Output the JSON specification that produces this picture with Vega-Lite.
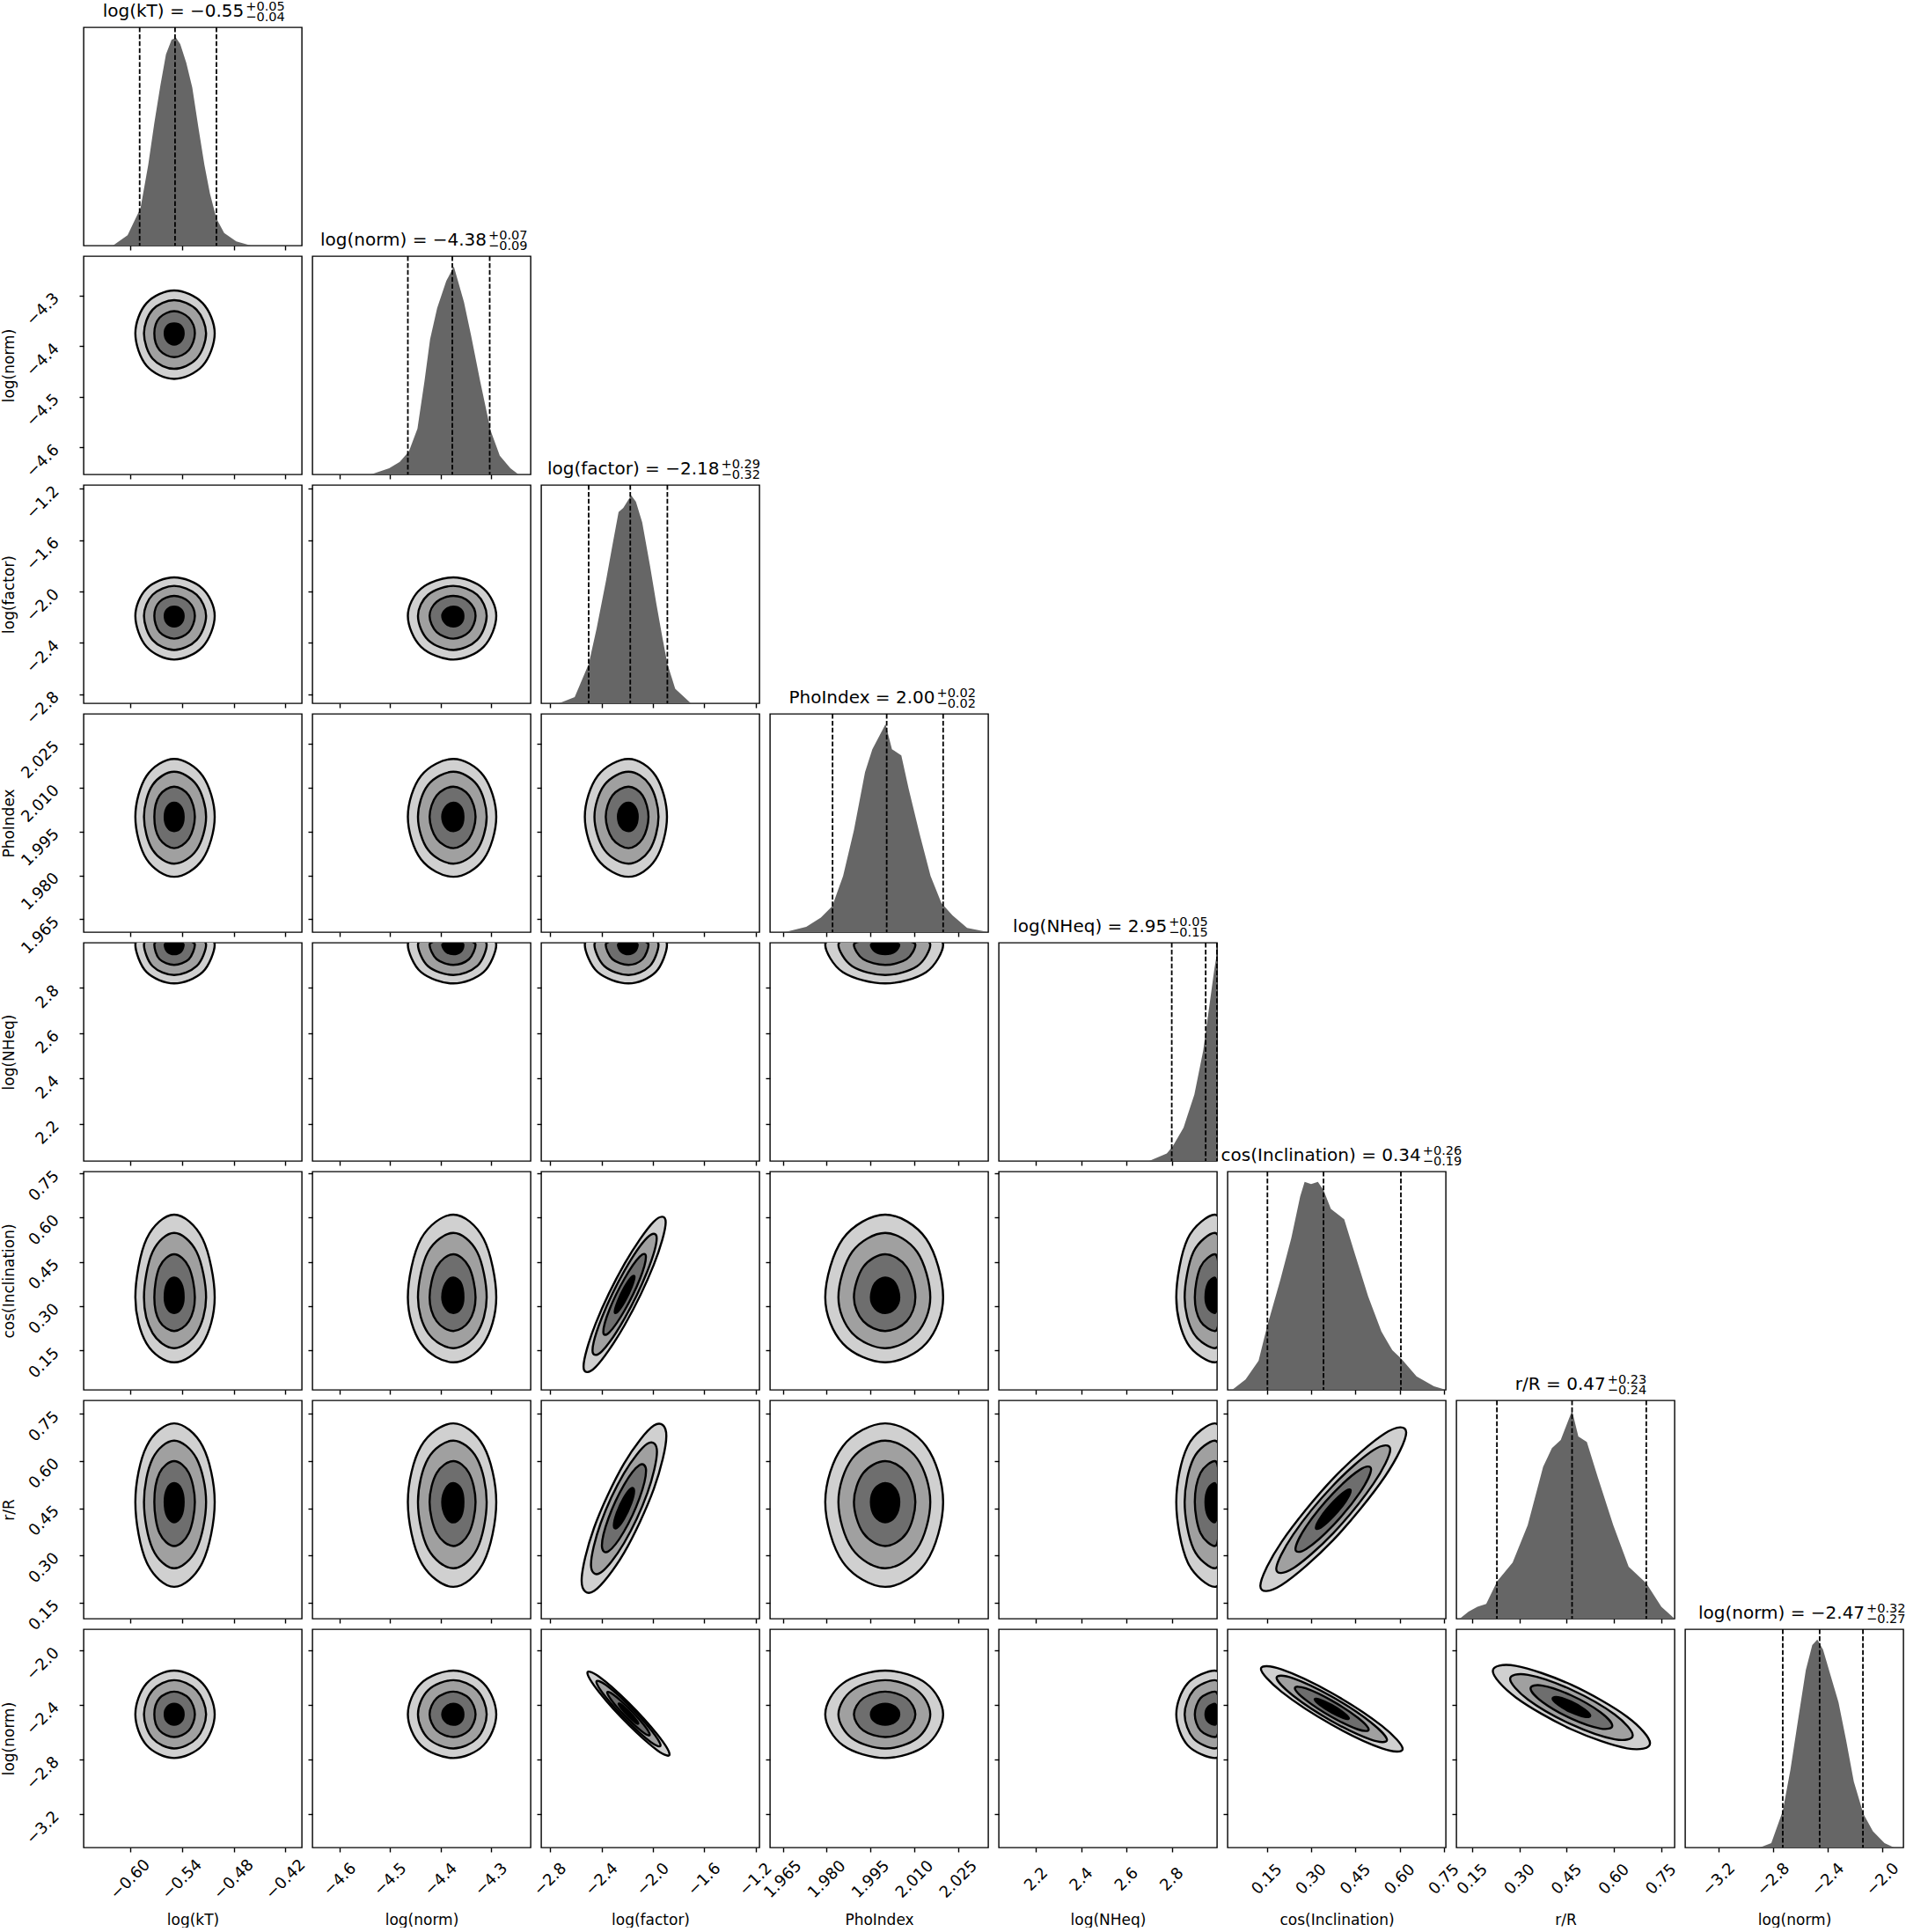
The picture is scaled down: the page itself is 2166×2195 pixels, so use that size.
{
"$schema":"https://vega.github.io/schema/vega-lite/v6.json",
"padding":{"left":0,"top":-2,"right":2,"bottom":0},
"columns":8,"spacing":12,"bounds":"flush",
"resolve":{"scale":{"x":"independent","y":"independent","fill":"independent"}},
"config":{
 "font":"DejaVu Sans",
 "view":{"stroke":"black","strokeWidth":1.4},
 "axis":{"domain":false,"grid":false,"tickColor":"black","tickSize":5,"tickWidth":1.4,"labelFontSize":18,"labelColor":"black","labelFont":"DejaVu Sans","labelAngle":-45,"labelOverlap":false,"labelFlush":false,"labelBound":false,"titleFont":"DejaVu Sans","titleFontSize":17,"titleFontWeight":"normal","titleColor":"black","titleBaseline":"alphabetic"},
 "axisX":{"labelAlign":"center","labelBaseline":"middle","labelPadding":31,"titleY":87},
 "axisY":{"labelAlign":"right","labelBaseline":"middle","labelPadding":26,"titleX":-80},
 "text":{"font":"DejaVu Sans","color":"black"}
},
"datasets":{
"r0":[{"lv":10,"l":1,"a":-0.502,"b":-0.549},{"lv":11,"l":1,"a":-0.516,"b":-0.516},{"lv":12,"l":1,"a":-0.549,"b":-0.502},{"lv":13,"l":1,"a":-0.581,"b":-0.516},{"lv":14,"l":1,"a":-0.594,"b":-0.549},{"lv":15,"l":1,"a":-0.581,"b":-0.581},{"lv":16,"l":1,"a":-0.549,"b":-0.594},{"lv":17,"l":1,"a":-0.516,"b":-0.581},
{"lv":20,"l":2,"a":-0.512,"b":-0.549},{"lv":21,"l":2,"a":-0.523,"b":-0.523},{"lv":22,"l":2,"a":-0.549,"b":-0.512},{"lv":23,"l":2,"a":-0.574,"b":-0.523},{"lv":24,"l":2,"a":-0.584,"b":-0.549},{"lv":25,"l":2,"a":-0.574,"b":-0.574},{"lv":26,"l":2,"a":-0.549,"b":-0.584},{"lv":27,"l":2,"a":-0.523,"b":-0.574},
{"lv":30,"l":3,"a":-0.525,"b":-0.549},{"lv":31,"l":3,"a":-0.532,"b":-0.532},{"lv":32,"l":3,"a":-0.549,"b":-0.525},{"lv":33,"l":3,"a":-0.566,"b":-0.532},{"lv":34,"l":3,"a":-0.572,"b":-0.549},{"lv":35,"l":3,"a":-0.566,"b":-0.566},{"lv":36,"l":3,"a":-0.549,"b":-0.572},{"lv":37,"l":3,"a":-0.532,"b":-0.566},
{"lv":40,"l":4,"a":-0.538,"b":-0.549},{"lv":41,"l":4,"a":-0.541,"b":-0.541},{"lv":42,"l":4,"a":-0.549,"b":-0.538},{"lv":43,"l":4,"a":-0.557,"b":-0.541},{"lv":44,"l":4,"a":-0.56,"b":-0.549},{"lv":45,"l":4,"a":-0.557,"b":-0.557},{"lv":46,"l":4,"a":-0.549,"b":-0.56},{"lv":47,"l":4,"a":-0.541,"b":-0.557}],
"r1":[{"lv":10,"l":1,"a":-4.29,"b":-4.375},{"lv":11,"l":1,"a":-4.315,"b":-4.315},{"lv":12,"l":1,"a":-4.375,"b":-4.29},{"lv":13,"l":1,"a":-4.439,"b":-4.315},{"lv":14,"l":1,"a":-4.465,"b":-4.375},{"lv":15,"l":1,"a":-4.439,"b":-4.439},{"lv":16,"l":1,"a":-4.375,"b":-4.465},{"lv":17,"l":1,"a":-4.315,"b":-4.439},
{"lv":20,"l":2,"a":-4.309,"b":-4.375},{"lv":21,"l":2,"a":-4.328,"b":-4.328},{"lv":22,"l":2,"a":-4.375,"b":-4.309},{"lv":23,"l":2,"a":-4.425,"b":-4.328},{"lv":24,"l":2,"a":-4.445,"b":-4.375},{"lv":25,"l":2,"a":-4.425,"b":-4.425},{"lv":26,"l":2,"a":-4.375,"b":-4.445},{"lv":27,"l":2,"a":-4.328,"b":-4.425},
{"lv":30,"l":3,"a":-4.331,"b":-4.375},{"lv":31,"l":3,"a":-4.344,"b":-4.344},{"lv":32,"l":3,"a":-4.375,"b":-4.331},{"lv":33,"l":3,"a":-4.408,"b":-4.344},{"lv":34,"l":3,"a":-4.422,"b":-4.375},{"lv":35,"l":3,"a":-4.408,"b":-4.408},{"lv":36,"l":3,"a":-4.375,"b":-4.422},{"lv":37,"l":3,"a":-4.344,"b":-4.408},
{"lv":40,"l":4,"a":-4.355,"b":-4.375},{"lv":41,"l":4,"a":-4.36,"b":-4.36},{"lv":42,"l":4,"a":-4.375,"b":-4.355},{"lv":43,"l":4,"a":-4.39,"b":-4.36},{"lv":44,"l":4,"a":-4.397,"b":-4.375},{"lv":45,"l":4,"a":-4.39,"b":-4.39},{"lv":46,"l":4,"a":-4.375,"b":-4.397},{"lv":47,"l":4,"a":-4.36,"b":-4.39}],
"r2":[{"lv":10,"l":1,"a":-1.89,"b":-2.19},{"lv":11,"l":1,"a":-1.978,"b":-1.978},{"lv":12,"l":1,"a":-2.19,"b":-1.89},{"lv":13,"l":1,"a":-2.43,"b":-1.978},{"lv":14,"l":1,"a":-2.53,"b":-2.19},{"lv":15,"l":1,"a":-2.43,"b":-2.43},{"lv":16,"l":1,"a":-2.19,"b":-2.53},{"lv":17,"l":1,"a":-1.978,"b":-2.43},
{"lv":20,"l":2,"a":-1.956,"b":-2.19},{"lv":21,"l":2,"a":-2.025,"b":-2.025},{"lv":22,"l":2,"a":-2.19,"b":-1.956},{"lv":23,"l":2,"a":-2.377,"b":-2.025},{"lv":24,"l":2,"a":-2.455,"b":-2.19},{"lv":25,"l":2,"a":-2.377,"b":-2.377},{"lv":26,"l":2,"a":-2.19,"b":-2.455},{"lv":27,"l":2,"a":-2.025,"b":-2.377},
{"lv":30,"l":3,"a":-2.034,"b":-2.19},{"lv":31,"l":3,"a":-2.08,"b":-2.08},{"lv":32,"l":3,"a":-2.19,"b":-2.034},{"lv":33,"l":3,"a":-2.315,"b":-2.08},{"lv":34,"l":3,"a":-2.367,"b":-2.19},{"lv":35,"l":3,"a":-2.315,"b":-2.315},{"lv":36,"l":3,"a":-2.19,"b":-2.367},{"lv":37,"l":3,"a":-2.08,"b":-2.315},
{"lv":40,"l":4,"a":-2.118,"b":-2.19},{"lv":41,"l":4,"a":-2.139,"b":-2.139},{"lv":42,"l":4,"a":-2.19,"b":-2.118},{"lv":43,"l":4,"a":-2.248,"b":-2.139},{"lv":44,"l":4,"a":-2.272,"b":-2.19},{"lv":45,"l":4,"a":-2.248,"b":-2.248},{"lv":46,"l":4,"a":-2.19,"b":-2.272},{"lv":47,"l":4,"a":-2.139,"b":-2.248}],
"r3":[{"lv":10,"l":1,"a":2.0198,"b":2.0},{"lv":11,"l":1,"a":2.014,"b":2.014},{"lv":12,"l":1,"a":2.0,"b":2.0198},{"lv":13,"l":1,"a":1.9855,"b":2.014},{"lv":14,"l":1,"a":1.9795,"b":2.0},{"lv":15,"l":1,"a":1.9855,"b":1.9855},{"lv":16,"l":1,"a":2.0,"b":1.9795},{"lv":17,"l":1,"a":2.014,"b":1.9855},
{"lv":20,"l":2,"a":2.0154,"b":2.0},{"lv":21,"l":2,"a":2.0109,"b":2.0109},{"lv":22,"l":2,"a":2.0,"b":2.0154},{"lv":23,"l":2,"a":1.9887,"b":2.0109},{"lv":24,"l":2,"a":1.984,"b":2.0},{"lv":25,"l":2,"a":1.9887,"b":1.9887},{"lv":26,"l":2,"a":2.0,"b":1.984},{"lv":27,"l":2,"a":2.0109,"b":1.9887},
{"lv":30,"l":3,"a":2.0103,"b":2.0},{"lv":31,"l":3,"a":2.0073,"b":2.0073},{"lv":32,"l":3,"a":2.0,"b":2.0103},{"lv":33,"l":3,"a":1.9925,"b":2.0073},{"lv":34,"l":3,"a":1.9893,"b":2.0},{"lv":35,"l":3,"a":1.9925,"b":1.9925},{"lv":36,"l":3,"a":2.0,"b":1.9893},{"lv":37,"l":3,"a":2.0073,"b":1.9925},
{"lv":40,"l":4,"a":2.0048,"b":2.0},{"lv":41,"l":4,"a":2.0034,"b":2.0034},{"lv":42,"l":4,"a":2.0,"b":2.0048},{"lv":43,"l":4,"a":1.9965,"b":2.0034},{"lv":44,"l":4,"a":1.9951,"b":2.0},{"lv":45,"l":4,"a":1.9965,"b":1.9965},{"lv":46,"l":4,"a":2.0,"b":1.9951},{"lv":47,"l":4,"a":2.0034,"b":1.9965}],
"r4":[{"lv":10,"l":1,"a":3.04,"b":2.99},{"lv":11,"l":1,"a":3.025,"b":3.025},{"lv":12,"l":1,"a":2.99,"b":3.04},{"lv":13,"l":1,"a":2.87,"b":3.025},{"lv":14,"l":1,"a":2.82,"b":2.99},{"lv":15,"l":1,"a":2.87,"b":2.87},{"lv":16,"l":1,"a":2.99,"b":2.82},{"lv":17,"l":1,"a":3.025,"b":2.87},
{"lv":20,"l":2,"a":3.029,"b":2.99},{"lv":21,"l":2,"a":3.018,"b":3.018},{"lv":22,"l":2,"a":2.99,"b":3.029},{"lv":23,"l":2,"a":2.896,"b":3.018},{"lv":24,"l":2,"a":2.857,"b":2.99},{"lv":25,"l":2,"a":2.896,"b":2.896},{"lv":26,"l":2,"a":2.99,"b":2.857},{"lv":27,"l":2,"a":3.018,"b":2.896},
{"lv":30,"l":3,"a":3.016,"b":2.99},{"lv":31,"l":3,"a":3.008,"b":3.008},{"lv":32,"l":3,"a":2.99,"b":3.016},{"lv":33,"l":3,"a":2.927,"b":3.008},{"lv":34,"l":3,"a":2.902,"b":2.99},{"lv":35,"l":3,"a":2.927,"b":2.927},{"lv":36,"l":3,"a":2.99,"b":2.902},{"lv":37,"l":3,"a":3.008,"b":2.927},
{"lv":40,"l":4,"a":3.002,"b":2.99},{"lv":41,"l":4,"a":2.9985,"b":2.9985},{"lv":42,"l":4,"a":2.99,"b":3.002},{"lv":43,"l":4,"a":2.961,"b":2.9985},{"lv":44,"l":4,"a":2.949,"b":2.99},{"lv":45,"l":4,"a":2.961,"b":2.961},{"lv":46,"l":4,"a":2.99,"b":2.949},{"lv":47,"l":4,"a":2.9985,"b":2.961}],
"r5":[{"lv":10,"l":1,"a":0.61,"b":0.33},{"lv":11,"l":1,"a":0.528,"b":0.528},{"lv":12,"l":1,"a":0.33,"b":0.61},{"lv":13,"l":1,"a":0.174,"b":0.528},{"lv":14,"l":1,"a":0.11,"b":0.33},{"lv":15,"l":1,"a":0.174,"b":0.174},{"lv":16,"l":1,"a":0.33,"b":0.11},{"lv":17,"l":1,"a":0.528,"b":0.174},
{"lv":20,"l":2,"a":0.548,"b":0.33},{"lv":21,"l":2,"a":0.484,"b":0.484},{"lv":22,"l":2,"a":0.33,"b":0.548},{"lv":23,"l":2,"a":0.209,"b":0.484},{"lv":24,"l":2,"a":0.158,"b":0.33},{"lv":25,"l":2,"a":0.209,"b":0.209},{"lv":26,"l":2,"a":0.33,"b":0.158},{"lv":27,"l":2,"a":0.484,"b":0.209},
{"lv":30,"l":3,"a":0.476,"b":0.33},{"lv":31,"l":3,"a":0.433,"b":0.433},{"lv":32,"l":3,"a":0.33,"b":0.476},{"lv":33,"l":3,"a":0.249,"b":0.433},{"lv":34,"l":3,"a":0.216,"b":0.33},{"lv":35,"l":3,"a":0.249,"b":0.249},{"lv":36,"l":3,"a":0.33,"b":0.216},{"lv":37,"l":3,"a":0.433,"b":0.249},
{"lv":40,"l":4,"a":0.397,"b":0.33},{"lv":41,"l":4,"a":0.378,"b":0.378},{"lv":42,"l":4,"a":0.33,"b":0.397},{"lv":43,"l":4,"a":0.293,"b":0.378},{"lv":44,"l":4,"a":0.277,"b":0.33},{"lv":45,"l":4,"a":0.293,"b":0.293},{"lv":46,"l":4,"a":0.33,"b":0.277},{"lv":47,"l":4,"a":0.378,"b":0.293}],
"r6":[{"lv":10,"l":1,"a":0.72,"b":0.47},{"lv":11,"l":1,"a":0.647,"b":0.647},{"lv":12,"l":1,"a":0.47,"b":0.72},{"lv":13,"l":1,"a":0.279,"b":0.647},{"lv":14,"l":1,"a":0.2,"b":0.47},{"lv":15,"l":1,"a":0.279,"b":0.279},{"lv":16,"l":1,"a":0.47,"b":0.2},{"lv":17,"l":1,"a":0.647,"b":0.279},
{"lv":20,"l":2,"a":0.665,"b":0.47},{"lv":21,"l":2,"a":0.608,"b":0.608},{"lv":22,"l":2,"a":0.47,"b":0.665},{"lv":23,"l":2,"a":0.321,"b":0.608},{"lv":24,"l":2,"a":0.259,"b":0.47},{"lv":25,"l":2,"a":0.321,"b":0.321},{"lv":26,"l":2,"a":0.47,"b":0.259},{"lv":27,"l":2,"a":0.608,"b":0.321},
{"lv":30,"l":3,"a":0.6,"b":0.47},{"lv":31,"l":3,"a":0.562,"b":0.562},{"lv":32,"l":3,"a":0.47,"b":0.6},{"lv":33,"l":3,"a":0.371,"b":0.562},{"lv":34,"l":3,"a":0.33,"b":0.47},{"lv":35,"l":3,"a":0.371,"b":0.371},{"lv":36,"l":3,"a":0.47,"b":0.33},{"lv":37,"l":3,"a":0.562,"b":0.371},
{"lv":40,"l":4,"a":0.53,"b":0.47},{"lv":41,"l":4,"a":0.5125,"b":0.5125},{"lv":42,"l":4,"a":0.47,"b":0.53},{"lv":43,"l":4,"a":0.424,"b":0.5125},{"lv":44,"l":4,"a":0.405,"b":0.47},{"lv":45,"l":4,"a":0.424,"b":0.424},{"lv":46,"l":4,"a":0.47,"b":0.405},{"lv":47,"l":4,"a":0.5125,"b":0.424}],
"r7":[{"lv":10,"l":1,"a":-2.15,"b":-2.47},{"lv":11,"l":1,"a":-2.244,"b":-2.244},{"lv":12,"l":1,"a":-2.47,"b":-2.15},{"lv":13,"l":1,"a":-2.696,"b":-2.244},{"lv":14,"l":1,"a":-2.79,"b":-2.47},{"lv":15,"l":1,"a":-2.696,"b":-2.696},{"lv":16,"l":1,"a":-2.47,"b":-2.79},{"lv":17,"l":1,"a":-2.244,"b":-2.696},
{"lv":20,"l":2,"a":-2.22,"b":-2.47},{"lv":21,"l":2,"a":-2.294,"b":-2.294},{"lv":22,"l":2,"a":-2.47,"b":-2.22},{"lv":23,"l":2,"a":-2.646,"b":-2.294},{"lv":24,"l":2,"a":-2.72,"b":-2.47},{"lv":25,"l":2,"a":-2.646,"b":-2.646},{"lv":26,"l":2,"a":-2.47,"b":-2.72},{"lv":27,"l":2,"a":-2.294,"b":-2.646},
{"lv":30,"l":3,"a":-2.304,"b":-2.47},{"lv":31,"l":3,"a":-2.352,"b":-2.352},{"lv":32,"l":3,"a":-2.47,"b":-2.304},{"lv":33,"l":3,"a":-2.588,"b":-2.352},{"lv":34,"l":3,"a":-2.636,"b":-2.47},{"lv":35,"l":3,"a":-2.588,"b":-2.588},{"lv":36,"l":3,"a":-2.47,"b":-2.636},{"lv":37,"l":3,"a":-2.352,"b":-2.588},
{"lv":40,"l":4,"a":-2.393,"b":-2.47},{"lv":41,"l":4,"a":-2.416,"b":-2.416},{"lv":42,"l":4,"a":-2.47,"b":-2.393},{"lv":43,"l":4,"a":-2.524,"b":-2.416},{"lv":44,"l":4,"a":-2.547,"b":-2.47},{"lv":45,"l":4,"a":-2.524,"b":-2.524},{"lv":46,"l":4,"a":-2.47,"b":-2.547},{"lv":47,"l":4,"a":-2.416,"b":-2.524}],
"c52":[{"l":1,"x":-1.9,"y":0.584},{"l":1,"x":-1.994,"y":0.586},{"l":1,"x":-2.22,"y":0.444},{"l":1,"x":-2.446,"y":0.241},{"l":1,"x":-2.54,"y":0.096},{"l":1,"x":-2.446,"y":0.094},{"l":1,"x":-2.22,"y":0.236},{"l":1,"x":-1.994,"y":0.439},
{"l":2,"x":-1.97,"y":0.53},{"l":2,"x":-2.044,"y":0.532},{"l":2,"x":-2.22,"y":0.421},{"l":2,"x":-2.396,"y":0.263},{"l":2,"x":-2.47,"y":0.15},{"l":2,"x":-2.396,"y":0.148},{"l":2,"x":-2.22,"y":0.259},{"l":2,"x":-2.044,"y":0.417},
{"l":3,"x":-2.054,"y":0.467},{"l":3,"x":-2.102,"y":0.468},{"l":3,"x":-2.22,"y":0.394},{"l":3,"x":-2.338,"y":0.289},{"l":3,"x":-2.386,"y":0.213},{"l":3,"x":-2.338,"y":0.212},{"l":3,"x":-2.22,"y":0.286},{"l":3,"x":-2.102,"y":0.391},
{"l":4,"x":-2.143,"y":0.399},{"l":4,"x":-2.166,"y":0.399},{"l":4,"x":-2.22,"y":0.365},{"l":4,"x":-2.274,"y":0.316},{"l":4,"x":-2.297,"y":0.281},{"l":4,"x":-2.274,"y":0.281},{"l":4,"x":-2.22,"y":0.315},{"l":4,"x":-2.166,"y":0.364}],
"c62":[{"l":1,"x":-1.895,"y":0.68},{"l":1,"x":-1.992,"y":0.713},{"l":1,"x":-2.225,"y":0.592},{"l":1,"x":-2.458,"y":0.388},{"l":1,"x":-2.555,"y":0.22},{"l":1,"x":-2.458,"y":0.187},{"l":1,"x":-2.225,"y":0.308},{"l":1,"x":-1.992,"y":0.512},
{"l":2,"x":-1.968,"y":0.629},{"l":2,"x":-2.043,"y":0.655},{"l":2,"x":-2.225,"y":0.561},{"l":2,"x":-2.407,"y":0.402},{"l":2,"x":-2.482,"y":0.271},{"l":2,"x":-2.407,"y":0.245},{"l":2,"x":-2.225,"y":0.339},{"l":2,"x":-2.043,"y":0.498},
{"l":3,"x":-2.053,"y":0.569},{"l":3,"x":-2.104,"y":0.587},{"l":3,"x":-2.225,"y":0.524},{"l":3,"x":-2.346,"y":0.418},{"l":3,"x":-2.397,"y":0.331},{"l":3,"x":-2.346,"y":0.313},{"l":3,"x":-2.225,"y":0.376},{"l":3,"x":-2.104,"y":0.482},
{"l":4,"x":-2.146,"y":0.505},{"l":4,"x":-2.169,"y":0.513},{"l":4,"x":-2.225,"y":0.484},{"l":4,"x":-2.281,"y":0.435},{"l":4,"x":-2.304,"y":0.395},{"l":4,"x":-2.281,"y":0.387},{"l":4,"x":-2.225,"y":0.416},{"l":4,"x":-2.169,"y":0.465}],
"c72":[{"l":1,"x":-1.87,"y":-2.764},{"l":1,"x":-1.964,"y":-2.619},{"l":1,"x":-2.19,"y":-2.384},{"l":1,"x":-2.416,"y":-2.196},{"l":1,"x":-2.51,"y":-2.166},{"l":1,"x":-2.416,"y":-2.311},{"l":1,"x":-2.19,"y":-2.546},{"l":1,"x":-1.964,"y":-2.734},
{"l":2,"x":-1.94,"y":-2.698},{"l":2,"x":-2.014,"y":-2.585},{"l":2,"x":-2.19,"y":-2.402},{"l":2,"x":-2.366,"y":-2.255},{"l":2,"x":-2.44,"y":-2.232},{"l":2,"x":-2.366,"y":-2.345},{"l":2,"x":-2.19,"y":-2.528},{"l":2,"x":-2.014,"y":-2.675},
{"l":3,"x":-2.024,"y":-2.62},{"l":3,"x":-2.072,"y":-2.545},{"l":3,"x":-2.19,"y":-2.423},{"l":3,"x":-2.308,"y":-2.325},{"l":3,"x":-2.356,"y":-2.31},{"l":3,"x":-2.308,"y":-2.385},{"l":3,"x":-2.19,"y":-2.507},{"l":3,"x":-2.072,"y":-2.605},
{"l":4,"x":-2.113,"y":-2.537},{"l":4,"x":-2.136,"y":-2.502},{"l":4,"x":-2.19,"y":-2.446},{"l":4,"x":-2.244,"y":-2.4},{"l":4,"x":-2.267,"y":-2.393},{"l":4,"x":-2.244,"y":-2.428},{"l":4,"x":-2.19,"y":-2.484},{"l":4,"x":-2.136,"y":-2.53}],
"c65":[{"l":1,"x":0.622,"y":0.691},{"l":1,"x":0.55,"y":0.688},{"l":1,"x":0.375,"y":0.545},{"l":1,"x":0.2,"y":0.343},{"l":1,"x":0.128,"y":0.203},{"l":1,"x":0.2,"y":0.206},{"l":1,"x":0.375,"y":0.349},{"l":1,"x":0.55,"y":0.551},
{"l":2,"x":0.568,"y":0.637},{"l":2,"x":0.511,"y":0.635},{"l":2,"x":0.375,"y":0.523},{"l":2,"x":0.239,"y":0.366},{"l":2,"x":0.182,"y":0.257},{"l":2,"x":0.239,"y":0.259},{"l":2,"x":0.375,"y":0.371},{"l":2,"x":0.511,"y":0.528},
{"l":3,"x":0.503,"y":0.574},{"l":3,"x":0.466,"y":0.573},{"l":3,"x":0.375,"y":0.498},{"l":3,"x":0.284,"y":0.393},{"l":3,"x":0.247,"y":0.32},{"l":3,"x":0.284,"y":0.321},{"l":3,"x":0.375,"y":0.396},{"l":3,"x":0.466,"y":0.501},
{"l":4,"x":0.434,"y":0.506},{"l":4,"x":0.417,"y":0.505},{"l":4,"x":0.375,"y":0.47},{"l":4,"x":0.333,"y":0.422},{"l":4,"x":0.316,"y":0.388},{"l":4,"x":0.333,"y":0.389},{"l":4,"x":0.375,"y":0.424},{"l":4,"x":0.417,"y":0.472}],
"c75":[{"l":1,"x":0.61,"y":-2.723},{"l":1,"x":0.54,"y":-2.555},{"l":1,"x":0.37,"y":-2.314},{"l":1,"x":0.2,"y":-2.141},{"l":1,"x":0.13,"y":-2.137},{"l":1,"x":0.2,"y":-2.305},{"l":1,"x":0.37,"y":-2.546},{"l":1,"x":0.54,"y":-2.719},
{"l":2,"x":0.557,"y":-2.658},{"l":2,"x":0.502,"y":-2.528},{"l":2,"x":0.37,"y":-2.34},{"l":2,"x":0.238,"y":-2.205},{"l":2,"x":0.183,"y":-2.202},{"l":2,"x":0.238,"y":-2.332},{"l":2,"x":0.37,"y":-2.52},{"l":2,"x":0.502,"y":-2.655},
{"l":3,"x":0.495,"y":-2.582},{"l":3,"x":0.458,"y":-2.495},{"l":3,"x":0.37,"y":-2.37},{"l":3,"x":0.282,"y":-2.28},{"l":3,"x":0.245,"y":-2.278},{"l":3,"x":0.282,"y":-2.365},{"l":3,"x":0.37,"y":-2.49},{"l":3,"x":0.458,"y":-2.58},
{"l":4,"x":0.428,"y":-2.5},{"l":4,"x":0.411,"y":-2.46},{"l":4,"x":0.37,"y":-2.402},{"l":4,"x":0.329,"y":-2.361},{"l":4,"x":0.312,"y":-2.36},{"l":4,"x":0.329,"y":-2.4},{"l":4,"x":0.37,"y":-2.458},{"l":4,"x":0.411,"y":-2.499}],
"c76":[{"l":1,"x":0.715,"y":-2.681},{"l":1,"x":0.642,"y":-2.488},{"l":1,"x":0.465,"y":-2.254},{"l":1,"x":0.288,"y":-2.115},{"l":1,"x":0.215,"y":-2.153},{"l":1,"x":0.288,"y":-2.346},{"l":1,"x":0.465,"y":-2.58},{"l":1,"x":0.642,"y":-2.719},
{"l":2,"x":0.66,"y":-2.623},{"l":2,"x":0.603,"y":-2.472},{"l":2,"x":0.465,"y":-2.29},{"l":2,"x":0.327,"y":-2.181},{"l":2,"x":0.27,"y":-2.211},{"l":2,"x":0.327,"y":-2.362},{"l":2,"x":0.465,"y":-2.544},{"l":2,"x":0.603,"y":-2.653},
{"l":3,"x":0.595,"y":-2.554},{"l":3,"x":0.557,"y":-2.454},{"l":3,"x":0.465,"y":-2.332},{"l":3,"x":0.373,"y":-2.26},{"l":3,"x":0.335,"y":-2.28},{"l":3,"x":0.373,"y":-2.38},{"l":3,"x":0.465,"y":-2.502},{"l":3,"x":0.557,"y":-2.574},
{"l":4,"x":0.525,"y":-2.48},{"l":4,"x":0.507,"y":-2.434},{"l":4,"x":0.465,"y":-2.378},{"l":4,"x":0.423,"y":-2.345},{"l":4,"x":0.405,"y":-2.354},{"l":4,"x":0.423,"y":-2.4},{"l":4,"x":0.465,"y":-2.456},{"l":4,"x":0.507,"y":-2.489}],
"hist":[
{"k":0,"x":-0.62,"h":0},{"k":0,"x":-0.603,"h":0.05},{"k":0,"x":-0.588,"h":0.18},{"k":0,"x":-0.579,"h":0.39},{"k":0,"x":-0.572,"h":0.59},{"k":0,"x":-0.565,"h":0.77},{"k":0,"x":-0.5585,"h":0.92},{"k":0,"x":-0.552,"h":0.99},{"k":0,"x":-0.547,"h":1.0},{"k":0,"x":-0.542,"h":0.97},{"k":0,"x":-0.535,"h":0.88},{"k":0,"x":-0.528,"h":0.76},{"k":0,"x":-0.521,"h":0.57},{"k":0,"x":-0.514,"h":0.39},{"k":0,"x":-0.5075,"h":0.25},{"k":0,"x":-0.5,"h":0.13},{"k":0,"x":-0.491,"h":0.06},{"k":0,"x":-0.477,"h":0.02},{"k":0,"x":-0.46,"h":0},
{"k":1,"x":-4.538,"h":0},{"k":1,"x":-4.502,"h":0.03},{"k":1,"x":-4.481,"h":0.06},{"k":1,"x":-4.463,"h":0.11},{"k":1,"x":-4.446,"h":0.22},{"k":1,"x":-4.432,"h":0.45},{"k":1,"x":-4.421,"h":0.65},{"k":1,"x":-4.407,"h":0.8},{"k":1,"x":-4.389,"h":0.93},{"k":1,"x":-4.374,"h":1.0},{"k":1,"x":-4.354,"h":0.83},{"k":1,"x":-4.34,"h":0.67},{"k":1,"x":-4.322,"h":0.45},{"k":1,"x":-4.301,"h":0.21},{"k":1,"x":-4.283,"h":0.09},{"k":1,"x":-4.262,"h":0.03},{"k":1,"x":-4.246,"h":0},
{"k":2,"x":-2.731,"h":0},{"k":2,"x":-2.609,"h":0.03},{"k":2,"x":-2.499,"h":0.19},{"k":2,"x":-2.438,"h":0.36},{"k":2,"x":-2.365,"h":0.59},{"k":2,"x":-2.315,"h":0.76},{"k":2,"x":-2.267,"h":0.92},{"k":2,"x":-2.23,"h":0.94},{"k":2,"x":-2.169,"h":1.0},{"k":2,"x":-2.132,"h":0.97},{"k":2,"x":-2.083,"h":0.87},{"k":2,"x":-2.022,"h":0.66},{"k":2,"x":-1.973,"h":0.48},{"k":2,"x":-1.924,"h":0.31},{"k":2,"x":-1.887,"h":0.19},{"k":2,"x":-1.826,"h":0.07},{"k":2,"x":-1.704,"h":0},
{"k":3,"x":1.9657,"h":0},{"k":3,"x":1.973,"h":0.025},{"k":3,"x":1.978,"h":0.07},{"k":3,"x":1.9819,"h":0.125},{"k":3,"x":1.9856,"h":0.27},{"k":3,"x":1.9893,"h":0.49},{"k":3,"x":1.9931,"h":0.77},{"k":3,"x":1.9956,"h":0.88},{"k":3,"x":2.0001,"h":1.0},{"k":3,"x":2.0023,"h":0.88},{"k":3,"x":2.0055,"h":0.85},{"k":3,"x":2.008,"h":0.69},{"k":3,"x":2.0118,"h":0.47},{"k":3,"x":2.0155,"h":0.27},{"k":3,"x":2.0192,"h":0.14},{"k":3,"x":2.023,"h":0.08},{"k":3,"x":2.028,"h":0.02},{"k":3,"x":2.0352,"h":0},
{"k":4,"x":2.7,"h":0},{"k":4,"x":2.778,"h":0.036},{"k":4,"x":2.804,"h":0.07},{"k":4,"x":2.852,"h":0.16},{"k":4,"x":2.9,"h":0.32},{"k":4,"x":2.939,"h":0.53},{"k":4,"x":2.968,"h":0.76},{"k":4,"x":2.988,"h":0.92},{"k":4,"x":3.0,"h":1.0},
{"k":5,"x":0.033,"h":0},{"k":5,"x":0.078,"h":0.05},{"k":5,"x":0.122,"h":0.14},{"k":5,"x":0.152,"h":0.31},{"k":5,"x":0.196,"h":0.53},{"k":5,"x":0.233,"h":0.73},{"k":5,"x":0.263,"h":0.93},{"k":5,"x":0.278,"h":1.0},{"k":5,"x":0.3,"h":0.99},{"k":5,"x":0.323,"h":1.0},{"k":5,"x":0.342,"h":0.96},{"k":5,"x":0.367,"h":0.87},{"k":5,"x":0.412,"h":0.82},{"k":5,"x":0.449,"h":0.65},{"k":5,"x":0.493,"h":0.45},{"k":5,"x":0.538,"h":0.28},{"k":5,"x":0.575,"h":0.19},{"k":5,"x":0.605,"h":0.15},{"k":5,"x":0.657,"h":0.065},{"k":5,"x":0.716,"h":0.017},{"k":5,"x":0.756,"h":0},
{"k":6,"x":0.11,"h":0},{"k":6,"x":0.138,"h":0.034},{"k":6,"x":0.166,"h":0.057},{"k":6,"x":0.194,"h":0.071},{"k":6,"x":0.229,"h":0.18},{"k":6,"x":0.278,"h":0.27},{"k":6,"x":0.326,"h":0.45},{"k":6,"x":0.375,"h":0.73},{"k":6,"x":0.403,"h":0.82},{"k":6,"x":0.431,"h":0.86},{"k":6,"x":0.467,"h":1.0},{"k":6,"x":0.487,"h":0.876},{"k":6,"x":0.514,"h":0.85},{"k":6,"x":0.549,"h":0.68},{"k":6,"x":0.598,"h":0.45},{"k":6,"x":0.647,"h":0.25},{"k":6,"x":0.703,"h":0.17},{"k":6,"x":0.751,"h":0.057},{"k":6,"x":0.793,"h":0},
{"k":7,"x":-2.898,"h":0},{"k":7,"x":-2.814,"h":0.021},{"k":7,"x":-2.73,"h":0.176},{"k":7,"x":-2.674,"h":0.374},{"k":7,"x":-2.618,"h":0.614},{"k":7,"x":-2.561,"h":0.854},{"k":7,"x":-2.514,"h":0.974},{"k":7,"x":-2.477,"h":1.0},{"k":7,"x":-2.435,"h":0.952},{"k":7,"x":-2.379,"h":0.826},{"k":7,"x":-2.322,"h":0.699},{"k":7,"x":-2.266,"h":0.515},{"k":7,"x":-2.21,"h":0.318},{"k":7,"x":-2.14,"h":0.162},{"k":7,"x":-2.07,"h":0.078},{"k":7,"x":-1.985,"h":0.021},{"k":7,"x":-1.915,"h":0}],
"q":[{"k":0,"x":-0.589},{"k":0,"x":-0.548},{"k":0,"x":-0.5},{"k":1,"x":-4.465},{"k":1,"x":-4.377},{"k":1,"x":-4.303},{"k":2,"x":-2.5},{"k":2,"x":-2.176},{"k":2,"x":-1.887},{"k":3,"x":1.982},{"k":3,"x":2.0005},{"k":3,"x":2.0198},{"k":4,"x":2.8},{"k":4,"x":2.95},{"k":4,"x":3.0},{"k":5,"x":0.152},{"k":5,"x":0.342},{"k":5,"x":0.604},{"k":6,"x":0.228},{"k":6,"x":0.467},{"k":6,"x":0.703},{"k":7,"x":-2.73},{"k":7,"x":-2.46},{"k":7,"x":-2.143}],
"t":[{"k":0,"x":-0.468,"m":"log(kT) = −0.55","sp":"+0.05","sb":"−0.04"},{"k":1,"x":-4.309,"m":"log(norm) = −4.38","sp":"+0.07","sb":"−0.09"},{"k":2,"x":-1.482,"m":"log(factor) = −2.18","sp":"+0.29","sb":"−0.32"},{"k":3,"x":2.017,"m":"PhoIndex = 2.00","sp":"+0.02","sb":"−0.02"},{"k":4,"x":2.779,"m":"log(NHeq) = 2.95","sp":"+0.05","sb":"−0.15"},{"k":5,"x":0.672,"m":"cos(Inclination) = 0.34","sp":"+0.26","sb":"−0.19"},{"k":6,"x":0.574,"m":"r/R = 0.47","sp":"+0.23","sb":"−0.24"},{"k":7,"x":-2.13,"m":"log(norm) = −2.47","sp":"+0.32","sb":"−0.27"}]
},
"concat":[
{"width":248,"height":248,"encoding":{"x":{"field":"x","type":"quantitative","scale":{"domain":[-0.654,-0.401]},"axis":{"values":[-0.6,-0.54,-0.48,-0.42],"labels":false,"title":null}}},"layer":[
 {"data":{"name":"hist"},"transform":[{"filter":"datum.k==0"}],"mark":{"type":"area","color":"#666666","clip":true},"encoding":{"y":{"field":"h","type":"quantitative","scale":{"domain":[0,1.05]},"axis":null}}},
 {"data":{"name":"q"},"transform":[{"filter":"datum.k==0"}],"mark":{"type":"rule","color":"black","strokeDash":[5.5,2.4],"strokeWidth":1.8},"encoding":{}},
 {"data":{"name":"t"},"transform":[{"filter":"datum.k==0"}],"mark":{"type":"text","align":"right","baseline":"alphabetic","fontSize":20},"encoding":{"y":{"datum":1.1025,"scale":{"domain":[0,1.05]},"axis":null},"text":{"field":"m"}}},
 {"data":{"name":"t"},"transform":[{"filter":"datum.k==0"}],"mark":{"type":"text","align":"left","baseline":"alphabetic","fontSize":14.5,"dx":2},"encoding":{"y":{"datum":1.132,"scale":{"domain":[0,1.05]},"axis":null},"text":{"field":"sp"}}},
 {"data":{"name":"t"},"transform":[{"filter":"datum.k==0"}],"mark":{"type":"text","align":"left","baseline":"alphabetic","fontSize":14.5,"dx":2},"encoding":{"y":{"datum":1.0813,"scale":{"domain":[0,1.05]},"axis":null},"text":{"field":"sb"}}}]},
{"width":248,"height":248,"data":{"values":[]},"mark":"point","view":{"stroke":null}},
{"width":248,"height":248,"data":{"values":[]},"mark":"point","view":{"stroke":null}},
{"width":248,"height":248,"data":{"values":[]},"mark":"point","view":{"stroke":null}},
{"width":248,"height":248,"data":{"values":[]},"mark":"point","view":{"stroke":null}},
{"width":248,"height":248,"data":{"values":[]},"mark":"point","view":{"stroke":null}},
{"width":248,"height":248,"data":{"values":[]},"mark":"point","view":{"stroke":null}},
{"width":248,"height":248,"data":{"values":[]},"mark":"point","view":{"stroke":null}},

{"width":248,"height":248,"data":{"name":"r0"},"transform":[{"lookup":"lv","from":{"data":{"name":"r1"},"key":"lv","fields":["b"]},"as":["y10"]}],"mark":{"type":"line","clip":true,"interpolate":"cardinal-closed","stroke":"black","strokeWidth":2.4},"encoding":{"x":{"field":"a","type":"quantitative","scale":{"domain":[-0.654,-0.401]},"axis":{"values":[-0.6,-0.54,-0.48,-0.42],"labels":false,"title":null}},"y":{"field":"y10","type":"quantitative","scale":{"domain":[-4.654,-4.222]},"axis":{"values":[-4.6,-4.5,-4.4,-4.3],"format":".1f","title":"log(norm)"}},"fill":{"field":"l","type":"nominal","scale":{"domain":[1,2,3,4],"range":["#d0d0d0","#a0a0a0","#6e6e6e","#000000"]},"legend":null},"order":{"value":null}}},
{"width":248,"height":248,"encoding":{"x":{"field":"x","type":"quantitative","scale":{"domain":[-4.654,-4.222]},"axis":{"values":[-4.6,-4.5,-4.4,-4.3],"labels":false,"title":null}}},"layer":[
 {"data":{"name":"hist"},"transform":[{"filter":"datum.k==1"}],"mark":{"type":"area","color":"#666666","clip":true},"encoding":{"y":{"field":"h","type":"quantitative","scale":{"domain":[0,1.05]},"axis":null}}},
 {"data":{"name":"q"},"transform":[{"filter":"datum.k==1"}],"mark":{"type":"rule","color":"black","strokeDash":[5.5,2.4],"strokeWidth":1.8},"encoding":{}},
 {"data":{"name":"t"},"transform":[{"filter":"datum.k==1"}],"mark":{"type":"text","align":"right","baseline":"alphabetic","fontSize":20},"encoding":{"y":{"datum":1.1025,"scale":{"domain":[0,1.05]},"axis":null},"text":{"field":"m"}}},
 {"data":{"name":"t"},"transform":[{"filter":"datum.k==1"}],"mark":{"type":"text","align":"left","baseline":"alphabetic","fontSize":14.5,"dx":2},"encoding":{"y":{"datum":1.132,"scale":{"domain":[0,1.05]},"axis":null},"text":{"field":"sp"}}},
 {"data":{"name":"t"},"transform":[{"filter":"datum.k==1"}],"mark":{"type":"text","align":"left","baseline":"alphabetic","fontSize":14.5,"dx":2},"encoding":{"y":{"datum":1.0813,"scale":{"domain":[0,1.05]},"axis":null},"text":{"field":"sb"}}}]},
{"width":248,"height":248,"data":{"values":[]},"mark":"point","view":{"stroke":null}},
{"width":248,"height":248,"data":{"values":[]},"mark":"point","view":{"stroke":null}},
{"width":248,"height":248,"data":{"values":[]},"mark":"point","view":{"stroke":null}},
{"width":248,"height":248,"data":{"values":[]},"mark":"point","view":{"stroke":null}},
{"width":248,"height":248,"data":{"values":[]},"mark":"point","view":{"stroke":null}},
{"width":248,"height":248,"data":{"values":[]},"mark":"point","view":{"stroke":null}},

{"width":248,"height":248,"data":{"name":"r0"},"transform":[{"lookup":"lv","from":{"data":{"name":"r2"},"key":"lv","fields":["b"]},"as":["y20"]}],"mark":{"type":"line","clip":true,"interpolate":"cardinal-closed","stroke":"black","strokeWidth":2.4},"encoding":{"x":{"field":"a","type":"quantitative","scale":{"domain":[-0.654,-0.401]},"axis":{"values":[-0.6,-0.54,-0.48,-0.42],"labels":false,"title":null}},"y":{"field":"y20","type":"quantitative","scale":{"domain":[-2.87,-1.17]},"axis":{"values":[-2.8,-2.4,-2.0,-1.6,-1.2],"format":".1f","title":"log(factor)"}},"fill":{"field":"l","type":"nominal","scale":{"domain":[1,2,3,4],"range":["#d0d0d0","#a0a0a0","#6e6e6e","#000000"]},"legend":null},"order":{"value":null}}},
{"width":248,"height":248,"data":{"name":"r1"},"transform":[{"lookup":"lv","from":{"data":{"name":"r2"},"key":"lv","fields":["b"]},"as":["y21"]}],"mark":{"type":"line","clip":true,"interpolate":"cardinal-closed","stroke":"black","strokeWidth":2.4},"encoding":{"x":{"field":"a","type":"quantitative","scale":{"domain":[-4.654,-4.222]},"axis":{"values":[-4.6,-4.5,-4.4,-4.3],"labels":false,"title":null}},"y":{"field":"y21","type":"quantitative","scale":{"domain":[-2.87,-1.17]},"axis":{"values":[-2.8,-2.4,-2.0,-1.6,-1.2],"labels":false,"title":null}},"fill":{"field":"l","type":"nominal","scale":{"domain":[1,2,3,4],"range":["#d0d0d0","#a0a0a0","#6e6e6e","#000000"]},"legend":null},"order":{"value":null}}},
{"width":248,"height":248,"encoding":{"x":{"field":"x","type":"quantitative","scale":{"domain":[-2.87,-1.17]},"axis":{"values":[-2.8,-2.4,-2.0,-1.6,-1.2],"labels":false,"title":null}}},"layer":[
 {"data":{"name":"hist"},"transform":[{"filter":"datum.k==2"}],"mark":{"type":"area","color":"#666666","clip":true},"encoding":{"y":{"field":"h","type":"quantitative","scale":{"domain":[0,1.05]},"axis":null}}},
 {"data":{"name":"q"},"transform":[{"filter":"datum.k==2"}],"mark":{"type":"rule","color":"black","strokeDash":[5.5,2.4],"strokeWidth":1.8},"encoding":{}},
 {"data":{"name":"t"},"transform":[{"filter":"datum.k==2"}],"mark":{"type":"text","align":"right","baseline":"alphabetic","fontSize":20},"encoding":{"y":{"datum":1.1025,"scale":{"domain":[0,1.05]},"axis":null},"text":{"field":"m"}}},
 {"data":{"name":"t"},"transform":[{"filter":"datum.k==2"}],"mark":{"type":"text","align":"left","baseline":"alphabetic","fontSize":14.5,"dx":2},"encoding":{"y":{"datum":1.132,"scale":{"domain":[0,1.05]},"axis":null},"text":{"field":"sp"}}},
 {"data":{"name":"t"},"transform":[{"filter":"datum.k==2"}],"mark":{"type":"text","align":"left","baseline":"alphabetic","fontSize":14.5,"dx":2},"encoding":{"y":{"datum":1.0813,"scale":{"domain":[0,1.05]},"axis":null},"text":{"field":"sb"}}}]},
{"width":248,"height":248,"data":{"values":[]},"mark":"point","view":{"stroke":null}},
{"width":248,"height":248,"data":{"values":[]},"mark":"point","view":{"stroke":null}},
{"width":248,"height":248,"data":{"values":[]},"mark":"point","view":{"stroke":null}},
{"width":248,"height":248,"data":{"values":[]},"mark":"point","view":{"stroke":null}},
{"width":248,"height":248,"data":{"values":[]},"mark":"point","view":{"stroke":null}},

{"width":248,"height":248,"data":{"name":"r0"},"transform":[{"lookup":"lv","from":{"data":{"name":"r3"},"key":"lv","fields":["b"]},"as":["y30"]}],"mark":{"type":"line","clip":true,"interpolate":"cardinal-closed","stroke":"black","strokeWidth":2.4},"encoding":{"x":{"field":"a","type":"quantitative","scale":{"domain":[-0.654,-0.401]},"axis":{"values":[-0.6,-0.54,-0.48,-0.42],"labels":false,"title":null}},"y":{"field":"y30","type":"quantitative","scale":{"domain":[1.9606,2.0352]},"axis":{"values":[1.965,1.98,1.995,2.01,2.025],"format":".3f","title":"PhoIndex"}},"fill":{"field":"l","type":"nominal","scale":{"domain":[1,2,3,4],"range":["#d0d0d0","#a0a0a0","#6e6e6e","#000000"]},"legend":null},"order":{"value":null}}},
{"width":248,"height":248,"data":{"name":"r1"},"transform":[{"lookup":"lv","from":{"data":{"name":"r3"},"key":"lv","fields":["b"]},"as":["y31"]}],"mark":{"type":"line","clip":true,"interpolate":"cardinal-closed","stroke":"black","strokeWidth":2.4},"encoding":{"x":{"field":"a","type":"quantitative","scale":{"domain":[-4.654,-4.222]},"axis":{"values":[-4.6,-4.5,-4.4,-4.3],"labels":false,"title":null}},"y":{"field":"y31","type":"quantitative","scale":{"domain":[1.9606,2.0352]},"axis":{"values":[1.965,1.98,1.995,2.01,2.025],"labels":false,"title":null}},"fill":{"field":"l","type":"nominal","scale":{"domain":[1,2,3,4],"range":["#d0d0d0","#a0a0a0","#6e6e6e","#000000"]},"legend":null},"order":{"value":null}}},
{"width":248,"height":248,"data":{"name":"r2"},"transform":[{"lookup":"lv","from":{"data":{"name":"r3"},"key":"lv","fields":["b"]},"as":["y32"]}],"mark":{"type":"line","clip":true,"interpolate":"cardinal-closed","stroke":"black","strokeWidth":2.4},"encoding":{"x":{"field":"a","type":"quantitative","scale":{"domain":[-2.87,-1.17]},"axis":{"values":[-2.8,-2.4,-2.0,-1.6,-1.2],"labels":false,"title":null}},"y":{"field":"y32","type":"quantitative","scale":{"domain":[1.9606,2.0352]},"axis":{"values":[1.965,1.98,1.995,2.01,2.025],"labels":false,"title":null}},"fill":{"field":"l","type":"nominal","scale":{"domain":[1,2,3,4],"range":["#d0d0d0","#a0a0a0","#6e6e6e","#000000"]},"legend":null},"order":{"value":null}}},
{"width":248,"height":248,"encoding":{"x":{"field":"x","type":"quantitative","scale":{"domain":[1.9606,2.0352]},"axis":{"values":[1.965,1.98,1.995,2.01,2.025],"labels":false,"title":null}}},"layer":[
 {"data":{"name":"hist"},"transform":[{"filter":"datum.k==3"}],"mark":{"type":"area","color":"#666666","clip":true},"encoding":{"y":{"field":"h","type":"quantitative","scale":{"domain":[0,1.05]},"axis":null}}},
 {"data":{"name":"q"},"transform":[{"filter":"datum.k==3"}],"mark":{"type":"rule","color":"black","strokeDash":[5.5,2.4],"strokeWidth":1.8},"encoding":{}},
 {"data":{"name":"t"},"transform":[{"filter":"datum.k==3"}],"mark":{"type":"text","align":"right","baseline":"alphabetic","fontSize":20},"encoding":{"y":{"datum":1.1025,"scale":{"domain":[0,1.05]},"axis":null},"text":{"field":"m"}}},
 {"data":{"name":"t"},"transform":[{"filter":"datum.k==3"}],"mark":{"type":"text","align":"left","baseline":"alphabetic","fontSize":14.5,"dx":2},"encoding":{"y":{"datum":1.132,"scale":{"domain":[0,1.05]},"axis":null},"text":{"field":"sp"}}},
 {"data":{"name":"t"},"transform":[{"filter":"datum.k==3"}],"mark":{"type":"text","align":"left","baseline":"alphabetic","fontSize":14.5,"dx":2},"encoding":{"y":{"datum":1.0813,"scale":{"domain":[0,1.05]},"axis":null},"text":{"field":"sb"}}}]},
{"width":248,"height":248,"data":{"values":[]},"mark":"point","view":{"stroke":null}},
{"width":248,"height":248,"data":{"values":[]},"mark":"point","view":{"stroke":null}},
{"width":248,"height":248,"data":{"values":[]},"mark":"point","view":{"stroke":null}},
{"width":248,"height":248,"data":{"values":[]},"mark":"point","view":{"stroke":null}},

{"width":248,"height":248,"data":{"name":"r0"},"transform":[{"lookup":"lv","from":{"data":{"name":"r4"},"key":"lv","fields":["b"]},"as":["y40"]}],"mark":{"type":"line","clip":true,"interpolate":"cardinal-closed","stroke":"black","strokeWidth":2.4},"encoding":{"x":{"field":"a","type":"quantitative","scale":{"domain":[-0.654,-0.401]},"axis":{"values":[-0.6,-0.54,-0.48,-0.42],"labels":false,"title":null}},"y":{"field":"y40","type":"quantitative","scale":{"domain":[2.035,3.0]},"axis":{"values":[2.2,2.4,2.6,2.8],"format":".1f","title":"log(NHeq)"}},"fill":{"field":"l","type":"nominal","scale":{"domain":[1,2,3,4],"range":["#d0d0d0","#a0a0a0","#6e6e6e","#000000"]},"legend":null},"order":{"value":null}}},
{"width":248,"height":248,"data":{"name":"r1"},"transform":[{"lookup":"lv","from":{"data":{"name":"r4"},"key":"lv","fields":["b"]},"as":["y41"]}],"mark":{"type":"line","clip":true,"interpolate":"cardinal-closed","stroke":"black","strokeWidth":2.4},"encoding":{"x":{"field":"a","type":"quantitative","scale":{"domain":[-4.654,-4.222]},"axis":{"values":[-4.6,-4.5,-4.4,-4.3],"labels":false,"title":null}},"y":{"field":"y41","type":"quantitative","scale":{"domain":[2.035,3.0]},"axis":{"values":[2.2,2.4,2.6,2.8],"labels":false,"title":null}},"fill":{"field":"l","type":"nominal","scale":{"domain":[1,2,3,4],"range":["#d0d0d0","#a0a0a0","#6e6e6e","#000000"]},"legend":null},"order":{"value":null}}},
{"width":248,"height":248,"data":{"name":"r2"},"transform":[{"lookup":"lv","from":{"data":{"name":"r4"},"key":"lv","fields":["b"]},"as":["y42"]}],"mark":{"type":"line","clip":true,"interpolate":"cardinal-closed","stroke":"black","strokeWidth":2.4},"encoding":{"x":{"field":"a","type":"quantitative","scale":{"domain":[-2.87,-1.17]},"axis":{"values":[-2.8,-2.4,-2.0,-1.6,-1.2],"labels":false,"title":null}},"y":{"field":"y42","type":"quantitative","scale":{"domain":[2.035,3.0]},"axis":{"values":[2.2,2.4,2.6,2.8],"labels":false,"title":null}},"fill":{"field":"l","type":"nominal","scale":{"domain":[1,2,3,4],"range":["#d0d0d0","#a0a0a0","#6e6e6e","#000000"]},"legend":null},"order":{"value":null}}},
{"width":248,"height":248,"data":{"name":"r3"},"transform":[{"lookup":"lv","from":{"data":{"name":"r4"},"key":"lv","fields":["b"]},"as":["y43"]}],"mark":{"type":"line","clip":true,"interpolate":"cardinal-closed","stroke":"black","strokeWidth":2.4},"encoding":{"x":{"field":"a","type":"quantitative","scale":{"domain":[1.9606,2.0352]},"axis":{"values":[1.965,1.98,1.995,2.01,2.025],"labels":false,"title":null}},"y":{"field":"y43","type":"quantitative","scale":{"domain":[2.035,3.0]},"axis":{"values":[2.2,2.4,2.6,2.8],"labels":false,"title":null}},"fill":{"field":"l","type":"nominal","scale":{"domain":[1,2,3,4],"range":["#d0d0d0","#a0a0a0","#6e6e6e","#000000"]},"legend":null},"order":{"value":null}}},
{"width":248,"height":248,"encoding":{"x":{"field":"x","type":"quantitative","scale":{"domain":[2.035,3.0]},"axis":{"values":[2.2,2.4,2.6,2.8],"labels":false,"title":null}}},"layer":[
 {"data":{"name":"hist"},"transform":[{"filter":"datum.k==4"}],"mark":{"type":"area","color":"#666666","clip":true},"encoding":{"y":{"field":"h","type":"quantitative","scale":{"domain":[0,1.05]},"axis":null}}},
 {"data":{"name":"q"},"transform":[{"filter":"datum.k==4"}],"mark":{"type":"rule","color":"black","strokeDash":[5.5,2.4],"strokeWidth":1.8},"encoding":{}},
 {"data":{"name":"t"},"transform":[{"filter":"datum.k==4"}],"mark":{"type":"text","align":"right","baseline":"alphabetic","fontSize":20},"encoding":{"y":{"datum":1.1025,"scale":{"domain":[0,1.05]},"axis":null},"text":{"field":"m"}}},
 {"data":{"name":"t"},"transform":[{"filter":"datum.k==4"}],"mark":{"type":"text","align":"left","baseline":"alphabetic","fontSize":14.5,"dx":2},"encoding":{"y":{"datum":1.132,"scale":{"domain":[0,1.05]},"axis":null},"text":{"field":"sp"}}},
 {"data":{"name":"t"},"transform":[{"filter":"datum.k==4"}],"mark":{"type":"text","align":"left","baseline":"alphabetic","fontSize":14.5,"dx":2},"encoding":{"y":{"datum":1.0813,"scale":{"domain":[0,1.05]},"axis":null},"text":{"field":"sb"}}}]},
{"width":248,"height":248,"data":{"values":[]},"mark":"point","view":{"stroke":null}},
{"width":248,"height":248,"data":{"values":[]},"mark":"point","view":{"stroke":null}},
{"width":248,"height":248,"data":{"values":[]},"mark":"point","view":{"stroke":null}},

{"width":248,"height":248,"data":{"name":"r0"},"transform":[{"lookup":"lv","from":{"data":{"name":"r5"},"key":"lv","fields":["b"]},"as":["y50"]}],"mark":{"type":"line","clip":true,"interpolate":"cardinal-closed","stroke":"black","strokeWidth":2.4},"encoding":{"x":{"field":"a","type":"quantitative","scale":{"domain":[-0.654,-0.401]},"axis":{"values":[-0.6,-0.54,-0.48,-0.42],"labels":false,"title":null}},"y":{"field":"y50","type":"quantitative","scale":{"domain":[0.017,0.756]},"axis":{"values":[0.15,0.3,0.45,0.6,0.75],"format":".2f","title":"cos(Inclination)"}},"fill":{"field":"l","type":"nominal","scale":{"domain":[1,2,3,4],"range":["#d0d0d0","#a0a0a0","#6e6e6e","#000000"]},"legend":null},"order":{"value":null}}},
{"width":248,"height":248,"data":{"name":"r1"},"transform":[{"lookup":"lv","from":{"data":{"name":"r5"},"key":"lv","fields":["b"]},"as":["y51"]}],"mark":{"type":"line","clip":true,"interpolate":"cardinal-closed","stroke":"black","strokeWidth":2.4},"encoding":{"x":{"field":"a","type":"quantitative","scale":{"domain":[-4.654,-4.222]},"axis":{"values":[-4.6,-4.5,-4.4,-4.3],"labels":false,"title":null}},"y":{"field":"y51","type":"quantitative","scale":{"domain":[0.017,0.756]},"axis":{"values":[0.15,0.3,0.45,0.6,0.75],"labels":false,"title":null}},"fill":{"field":"l","type":"nominal","scale":{"domain":[1,2,3,4],"range":["#d0d0d0","#a0a0a0","#6e6e6e","#000000"]},"legend":null},"order":{"value":null}}},
{"width":248,"height":248,"data":{"name":"c52"},"mark":{"type":"line","clip":true,"interpolate":"cardinal-closed","stroke":"black","strokeWidth":2.4},"encoding":{"x":{"field":"x","type":"quantitative","scale":{"domain":[-2.87,-1.17]},"axis":{"values":[-2.8,-2.4,-2.0,-1.6,-1.2],"labels":false,"title":null}},"y":{"field":"y","type":"quantitative","scale":{"domain":[0.017,0.756]},"axis":{"values":[0.15,0.3,0.45,0.6,0.75],"labels":false,"title":null}},"fill":{"field":"l","type":"nominal","scale":{"domain":[1,2,3,4],"range":["#d0d0d0","#a0a0a0","#6e6e6e","#000000"]},"legend":null},"order":{"value":null}}},
{"width":248,"height":248,"data":{"name":"r3"},"transform":[{"lookup":"lv","from":{"data":{"name":"r5"},"key":"lv","fields":["b"]},"as":["y53"]}],"mark":{"type":"line","clip":true,"interpolate":"cardinal-closed","stroke":"black","strokeWidth":2.4},"encoding":{"x":{"field":"a","type":"quantitative","scale":{"domain":[1.9606,2.0352]},"axis":{"values":[1.965,1.98,1.995,2.01,2.025],"labels":false,"title":null}},"y":{"field":"y53","type":"quantitative","scale":{"domain":[0.017,0.756]},"axis":{"values":[0.15,0.3,0.45,0.6,0.75],"labels":false,"title":null}},"fill":{"field":"l","type":"nominal","scale":{"domain":[1,2,3,4],"range":["#d0d0d0","#a0a0a0","#6e6e6e","#000000"]},"legend":null},"order":{"value":null}}},
{"width":248,"height":248,"data":{"name":"r4"},"transform":[{"lookup":"lv","from":{"data":{"name":"r5"},"key":"lv","fields":["b"]},"as":["y54"]}],"mark":{"type":"line","clip":true,"interpolate":"cardinal-closed","stroke":"black","strokeWidth":2.4},"encoding":{"x":{"field":"a","type":"quantitative","scale":{"domain":[2.035,3.0]},"axis":{"values":[2.2,2.4,2.6,2.8],"labels":false,"title":null}},"y":{"field":"y54","type":"quantitative","scale":{"domain":[0.017,0.756]},"axis":{"values":[0.15,0.3,0.45,0.6,0.75],"labels":false,"title":null}},"fill":{"field":"l","type":"nominal","scale":{"domain":[1,2,3,4],"range":["#d0d0d0","#a0a0a0","#6e6e6e","#000000"]},"legend":null},"order":{"value":null}}},
{"width":248,"height":248,"encoding":{"x":{"field":"x","type":"quantitative","scale":{"domain":[0.017,0.756]},"axis":{"values":[0.15,0.3,0.45,0.6,0.75],"labels":false,"title":null}}},"layer":[
 {"data":{"name":"hist"},"transform":[{"filter":"datum.k==5"}],"mark":{"type":"area","color":"#666666","clip":true},"encoding":{"y":{"field":"h","type":"quantitative","scale":{"domain":[0,1.05]},"axis":null}}},
 {"data":{"name":"q"},"transform":[{"filter":"datum.k==5"}],"mark":{"type":"rule","color":"black","strokeDash":[5.5,2.4],"strokeWidth":1.8},"encoding":{}},
 {"data":{"name":"t"},"transform":[{"filter":"datum.k==5"}],"mark":{"type":"text","align":"right","baseline":"alphabetic","fontSize":20},"encoding":{"y":{"datum":1.1025,"scale":{"domain":[0,1.05]},"axis":null},"text":{"field":"m"}}},
 {"data":{"name":"t"},"transform":[{"filter":"datum.k==5"}],"mark":{"type":"text","align":"left","baseline":"alphabetic","fontSize":14.5,"dx":2},"encoding":{"y":{"datum":1.132,"scale":{"domain":[0,1.05]},"axis":null},"text":{"field":"sp"}}},
 {"data":{"name":"t"},"transform":[{"filter":"datum.k==5"}],"mark":{"type":"text","align":"left","baseline":"alphabetic","fontSize":14.5,"dx":2},"encoding":{"y":{"datum":1.0813,"scale":{"domain":[0,1.05]},"axis":null},"text":{"field":"sb"}}}]},
{"width":248,"height":248,"data":{"values":[]},"mark":"point","view":{"stroke":null}},
{"width":248,"height":248,"data":{"values":[]},"mark":"point","view":{"stroke":null}},

{"width":248,"height":248,"data":{"name":"r0"},"transform":[{"lookup":"lv","from":{"data":{"name":"r6"},"key":"lv","fields":["b"]},"as":["y60"]}],"mark":{"type":"line","clip":true,"interpolate":"cardinal-closed","stroke":"black","strokeWidth":2.4},"encoding":{"x":{"field":"a","type":"quantitative","scale":{"domain":[-0.654,-0.401]},"axis":{"values":[-0.6,-0.54,-0.48,-0.42],"labels":false,"title":null}},"y":{"field":"y60","type":"quantitative","scale":{"domain":[0.099,0.793]},"axis":{"values":[0.15,0.3,0.45,0.6,0.75],"format":".2f","title":"r/R"}},"fill":{"field":"l","type":"nominal","scale":{"domain":[1,2,3,4],"range":["#d0d0d0","#a0a0a0","#6e6e6e","#000000"]},"legend":null},"order":{"value":null}}},
{"width":248,"height":248,"data":{"name":"r1"},"transform":[{"lookup":"lv","from":{"data":{"name":"r6"},"key":"lv","fields":["b"]},"as":["y61"]}],"mark":{"type":"line","clip":true,"interpolate":"cardinal-closed","stroke":"black","strokeWidth":2.4},"encoding":{"x":{"field":"a","type":"quantitative","scale":{"domain":[-4.654,-4.222]},"axis":{"values":[-4.6,-4.5,-4.4,-4.3],"labels":false,"title":null}},"y":{"field":"y61","type":"quantitative","scale":{"domain":[0.099,0.793]},"axis":{"values":[0.15,0.3,0.45,0.6,0.75],"labels":false,"title":null}},"fill":{"field":"l","type":"nominal","scale":{"domain":[1,2,3,4],"range":["#d0d0d0","#a0a0a0","#6e6e6e","#000000"]},"legend":null},"order":{"value":null}}},
{"width":248,"height":248,"data":{"name":"c62"},"mark":{"type":"line","clip":true,"interpolate":"cardinal-closed","stroke":"black","strokeWidth":2.4},"encoding":{"x":{"field":"x","type":"quantitative","scale":{"domain":[-2.87,-1.17]},"axis":{"values":[-2.8,-2.4,-2.0,-1.6,-1.2],"labels":false,"title":null}},"y":{"field":"y","type":"quantitative","scale":{"domain":[0.099,0.793]},"axis":{"values":[0.15,0.3,0.45,0.6,0.75],"labels":false,"title":null}},"fill":{"field":"l","type":"nominal","scale":{"domain":[1,2,3,4],"range":["#d0d0d0","#a0a0a0","#6e6e6e","#000000"]},"legend":null},"order":{"value":null}}},
{"width":248,"height":248,"data":{"name":"r3"},"transform":[{"lookup":"lv","from":{"data":{"name":"r6"},"key":"lv","fields":["b"]},"as":["y63"]}],"mark":{"type":"line","clip":true,"interpolate":"cardinal-closed","stroke":"black","strokeWidth":2.4},"encoding":{"x":{"field":"a","type":"quantitative","scale":{"domain":[1.9606,2.0352]},"axis":{"values":[1.965,1.98,1.995,2.01,2.025],"labels":false,"title":null}},"y":{"field":"y63","type":"quantitative","scale":{"domain":[0.099,0.793]},"axis":{"values":[0.15,0.3,0.45,0.6,0.75],"labels":false,"title":null}},"fill":{"field":"l","type":"nominal","scale":{"domain":[1,2,3,4],"range":["#d0d0d0","#a0a0a0","#6e6e6e","#000000"]},"legend":null},"order":{"value":null}}},
{"width":248,"height":248,"data":{"name":"r4"},"transform":[{"lookup":"lv","from":{"data":{"name":"r6"},"key":"lv","fields":["b"]},"as":["y64"]}],"mark":{"type":"line","clip":true,"interpolate":"cardinal-closed","stroke":"black","strokeWidth":2.4},"encoding":{"x":{"field":"a","type":"quantitative","scale":{"domain":[2.035,3.0]},"axis":{"values":[2.2,2.4,2.6,2.8],"labels":false,"title":null}},"y":{"field":"y64","type":"quantitative","scale":{"domain":[0.099,0.793]},"axis":{"values":[0.15,0.3,0.45,0.6,0.75],"labels":false,"title":null}},"fill":{"field":"l","type":"nominal","scale":{"domain":[1,2,3,4],"range":["#d0d0d0","#a0a0a0","#6e6e6e","#000000"]},"legend":null},"order":{"value":null}}},
{"width":248,"height":248,"data":{"name":"c65"},"mark":{"type":"line","clip":true,"interpolate":"cardinal-closed","stroke":"black","strokeWidth":2.4},"encoding":{"x":{"field":"x","type":"quantitative","scale":{"domain":[0.017,0.756]},"axis":{"values":[0.15,0.3,0.45,0.6,0.75],"labels":false,"title":null}},"y":{"field":"y","type":"quantitative","scale":{"domain":[0.099,0.793]},"axis":{"values":[0.15,0.3,0.45,0.6,0.75],"labels":false,"title":null}},"fill":{"field":"l","type":"nominal","scale":{"domain":[1,2,3,4],"range":["#d0d0d0","#a0a0a0","#6e6e6e","#000000"]},"legend":null},"order":{"value":null}}},
{"width":248,"height":248,"encoding":{"x":{"field":"x","type":"quantitative","scale":{"domain":[0.099,0.793]},"axis":{"values":[0.15,0.3,0.45,0.6,0.75],"labels":false,"title":null}}},"layer":[
 {"data":{"name":"hist"},"transform":[{"filter":"datum.k==6"}],"mark":{"type":"area","color":"#666666","clip":true},"encoding":{"y":{"field":"h","type":"quantitative","scale":{"domain":[0,1.05]},"axis":null}}},
 {"data":{"name":"q"},"transform":[{"filter":"datum.k==6"}],"mark":{"type":"rule","color":"black","strokeDash":[5.5,2.4],"strokeWidth":1.8},"encoding":{}},
 {"data":{"name":"t"},"transform":[{"filter":"datum.k==6"}],"mark":{"type":"text","align":"right","baseline":"alphabetic","fontSize":20},"encoding":{"y":{"datum":1.1025,"scale":{"domain":[0,1.05]},"axis":null},"text":{"field":"m"}}},
 {"data":{"name":"t"},"transform":[{"filter":"datum.k==6"}],"mark":{"type":"text","align":"left","baseline":"alphabetic","fontSize":14.5,"dx":2},"encoding":{"y":{"datum":1.132,"scale":{"domain":[0,1.05]},"axis":null},"text":{"field":"sp"}}},
 {"data":{"name":"t"},"transform":[{"filter":"datum.k==6"}],"mark":{"type":"text","align":"left","baseline":"alphabetic","fontSize":14.5,"dx":2},"encoding":{"y":{"datum":1.0813,"scale":{"domain":[0,1.05]},"axis":null},"text":{"field":"sb"}}}]},
{"width":248,"height":248,"data":{"values":[]},"mark":"point","view":{"stroke":null}},

{"width":248,"height":248,"data":{"name":"r0"},"transform":[{"lookup":"lv","from":{"data":{"name":"r7"},"key":"lv","fields":["b"]},"as":["y70"]}],"mark":{"type":"line","clip":true,"interpolate":"cardinal-closed","stroke":"black","strokeWidth":2.4},"encoding":{"x":{"field":"a","type":"quantitative","scale":{"domain":[-0.654,-0.401]},"axis":{"values":[-0.6,-0.54,-0.48,-0.42],"format":".2f","title":"log(kT)"}},"y":{"field":"y70","type":"quantitative","scale":{"domain":[-3.445,-1.847]},"axis":{"values":[-3.2,-2.8,-2.4,-2.0],"format":".1f","title":"log(norm)"}},"fill":{"field":"l","type":"nominal","scale":{"domain":[1,2,3,4],"range":["#d0d0d0","#a0a0a0","#6e6e6e","#000000"]},"legend":null},"order":{"value":null}}},
{"width":248,"height":248,"data":{"name":"r1"},"transform":[{"lookup":"lv","from":{"data":{"name":"r7"},"key":"lv","fields":["b"]},"as":["y71"]}],"mark":{"type":"line","clip":true,"interpolate":"cardinal-closed","stroke":"black","strokeWidth":2.4},"encoding":{"x":{"field":"a","type":"quantitative","scale":{"domain":[-4.654,-4.222]},"axis":{"values":[-4.6,-4.5,-4.4,-4.3],"format":".1f","title":"log(norm)"}},"y":{"field":"y71","type":"quantitative","scale":{"domain":[-3.445,-1.847]},"axis":{"values":[-3.2,-2.8,-2.4,-2.0],"labels":false,"title":null}},"fill":{"field":"l","type":"nominal","scale":{"domain":[1,2,3,4],"range":["#d0d0d0","#a0a0a0","#6e6e6e","#000000"]},"legend":null},"order":{"value":null}}},
{"width":248,"height":248,"data":{"name":"c72"},"mark":{"type":"line","clip":true,"interpolate":"cardinal-closed","stroke":"black","strokeWidth":2.4},"encoding":{"x":{"field":"x","type":"quantitative","scale":{"domain":[-2.87,-1.17]},"axis":{"values":[-2.8,-2.4,-2.0,-1.6,-1.2],"format":".1f","title":"log(factor)"}},"y":{"field":"y","type":"quantitative","scale":{"domain":[-3.445,-1.847]},"axis":{"values":[-3.2,-2.8,-2.4,-2.0],"labels":false,"title":null}},"fill":{"field":"l","type":"nominal","scale":{"domain":[1,2,3,4],"range":["#d0d0d0","#a0a0a0","#6e6e6e","#000000"]},"legend":null},"order":{"value":null}}},
{"width":248,"height":248,"data":{"name":"r3"},"transform":[{"lookup":"lv","from":{"data":{"name":"r7"},"key":"lv","fields":["b"]},"as":["y73"]}],"mark":{"type":"line","clip":true,"interpolate":"cardinal-closed","stroke":"black","strokeWidth":2.4},"encoding":{"x":{"field":"a","type":"quantitative","scale":{"domain":[1.9606,2.0352]},"axis":{"values":[1.965,1.98,1.995,2.01,2.025],"format":".3f","title":"PhoIndex"}},"y":{"field":"y73","type":"quantitative","scale":{"domain":[-3.445,-1.847]},"axis":{"values":[-3.2,-2.8,-2.4,-2.0],"labels":false,"title":null}},"fill":{"field":"l","type":"nominal","scale":{"domain":[1,2,3,4],"range":["#d0d0d0","#a0a0a0","#6e6e6e","#000000"]},"legend":null},"order":{"value":null}}},
{"width":248,"height":248,"data":{"name":"r4"},"transform":[{"lookup":"lv","from":{"data":{"name":"r7"},"key":"lv","fields":["b"]},"as":["y74"]}],"mark":{"type":"line","clip":true,"interpolate":"cardinal-closed","stroke":"black","strokeWidth":2.4},"encoding":{"x":{"field":"a","type":"quantitative","scale":{"domain":[2.035,3.0]},"axis":{"values":[2.2,2.4,2.6,2.8],"format":".1f","title":"log(NHeq)"}},"y":{"field":"y74","type":"quantitative","scale":{"domain":[-3.445,-1.847]},"axis":{"values":[-3.2,-2.8,-2.4,-2.0],"labels":false,"title":null}},"fill":{"field":"l","type":"nominal","scale":{"domain":[1,2,3,4],"range":["#d0d0d0","#a0a0a0","#6e6e6e","#000000"]},"legend":null},"order":{"value":null}}},
{"width":248,"height":248,"data":{"name":"c75"},"mark":{"type":"line","clip":true,"interpolate":"cardinal-closed","stroke":"black","strokeWidth":2.4},"encoding":{"x":{"field":"x","type":"quantitative","scale":{"domain":[0.017,0.756]},"axis":{"values":[0.15,0.3,0.45,0.6,0.75],"format":".2f","title":"cos(Inclination)"}},"y":{"field":"y","type":"quantitative","scale":{"domain":[-3.445,-1.847]},"axis":{"values":[-3.2,-2.8,-2.4,-2.0],"labels":false,"title":null}},"fill":{"field":"l","type":"nominal","scale":{"domain":[1,2,3,4],"range":["#d0d0d0","#a0a0a0","#6e6e6e","#000000"]},"legend":null},"order":{"value":null}}},
{"width":248,"height":248,"data":{"name":"c76"},"mark":{"type":"line","clip":true,"interpolate":"cardinal-closed","stroke":"black","strokeWidth":2.4},"encoding":{"x":{"field":"x","type":"quantitative","scale":{"domain":[0.099,0.793]},"axis":{"values":[0.15,0.3,0.45,0.6,0.75],"format":".2f","title":"r/R"}},"y":{"field":"y","type":"quantitative","scale":{"domain":[-3.445,-1.847]},"axis":{"values":[-3.2,-2.8,-2.4,-2.0],"labels":false,"title":null}},"fill":{"field":"l","type":"nominal","scale":{"domain":[1,2,3,4],"range":["#d0d0d0","#a0a0a0","#6e6e6e","#000000"]},"legend":null},"order":{"value":null}}},
{"width":248,"height":248,"encoding":{"x":{"field":"x","type":"quantitative","scale":{"domain":[-3.445,-1.847]},"axis":{"values":[-3.2,-2.8,-2.4,-2.0],"format":".1f","title":"log(norm)"}}},"layer":[
 {"data":{"name":"hist"},"transform":[{"filter":"datum.k==7"}],"mark":{"type":"area","color":"#666666","clip":true},"encoding":{"y":{"field":"h","type":"quantitative","scale":{"domain":[0,1.05]},"axis":null}}},
 {"data":{"name":"q"},"transform":[{"filter":"datum.k==7"}],"mark":{"type":"rule","color":"black","strokeDash":[5.5,2.4],"strokeWidth":1.8},"encoding":{}},
 {"data":{"name":"t"},"transform":[{"filter":"datum.k==7"}],"mark":{"type":"text","align":"right","baseline":"alphabetic","fontSize":20},"encoding":{"y":{"datum":1.1025,"scale":{"domain":[0,1.05]},"axis":null},"text":{"field":"m"}}},
 {"data":{"name":"t"},"transform":[{"filter":"datum.k==7"}],"mark":{"type":"text","align":"left","baseline":"alphabetic","fontSize":14.5,"dx":2},"encoding":{"y":{"datum":1.132,"scale":{"domain":[0,1.05]},"axis":null},"text":{"field":"sp"}}},
 {"data":{"name":"t"},"transform":[{"filter":"datum.k==7"}],"mark":{"type":"text","align":"left","baseline":"alphabetic","fontSize":14.5,"dx":2},"encoding":{"y":{"datum":1.0813,"scale":{"domain":[0,1.05]},"axis":null},"text":{"field":"sb"}}}]}
]
}
